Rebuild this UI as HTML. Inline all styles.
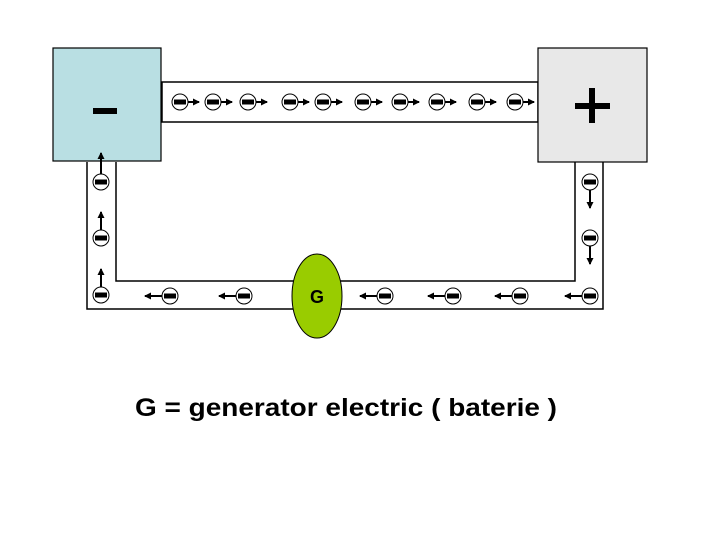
<!DOCTYPE html>
<html><head><style>html,body{margin:0;padding:0;background:#fff}svg{display:block}</style></head>
<body>
<svg width="720" height="540" viewBox="0 0 720 540" xmlns="http://www.w3.org/2000/svg">
<defs>
<marker id="ah" markerWidth="7" markerHeight="7" refX="6" refY="3.5" orient="auto" markerUnits="userSpaceOnUse">
<path d="M0,0 L7,3.5 L0,7 z" fill="#000"/></marker>
<g id="e"><circle r="8" fill="#fff" stroke="#000" stroke-width="1"/><rect x="-6" y="-2.5" width="12" height="5" fill="#000"/></g>
</defs>
<rect x="162" y="82" width="376" height="40" fill="#fff" stroke="#000" stroke-width="1.5"/>
<path d="M87,162 V309 H603 V162 M116,162 V281 H575 V162" fill="none" stroke="#000" stroke-width="1.5"/>
<rect x="53" y="48" width="108" height="113" fill="#b9dfe3" stroke="#000" stroke-width="1.2"/>
<rect x="538" y="48" width="109" height="114" fill="#e8e8e8" stroke="#000" stroke-width="1.2"/>
<rect x="93" y="108" width="24" height="6" fill="#000"/>
<rect x="575" y="103" width="35" height="6" fill="#000"/>
<rect x="589" y="88" width="6" height="35" fill="#000"/>
<g stroke="#000" stroke-width="2" marker-end="url(#ah)">
<line x1="188" y1="102" x2="199" y2="102"/><line x1="221" y1="102" x2="232" y2="102"/><line x1="256" y1="102" x2="267" y2="102"/>
<line x1="298" y1="102" x2="309" y2="102"/><line x1="331" y1="102" x2="342" y2="102"/><line x1="371" y1="102" x2="382" y2="102"/>
<line x1="408" y1="102" x2="419" y2="102"/><line x1="445" y1="102" x2="456" y2="102"/><line x1="485" y1="102" x2="496" y2="102"/>
<line x1="523" y1="102" x2="534" y2="102"/>
<line x1="101" y1="174" x2="101" y2="153"/><line x1="101" y1="230" x2="101" y2="212"/><line x1="101" y1="287" x2="101" y2="269"/>
<line x1="590" y1="190" x2="590" y2="208"/><line x1="590" y1="246" x2="590" y2="264"/>
<line x1="162" y1="296" x2="145" y2="296"/><line x1="236" y1="296" x2="219" y2="296"/>
<line x1="377" y1="296" x2="360" y2="296"/><line x1="445" y1="296" x2="428" y2="296"/>
<line x1="512" y1="296" x2="495" y2="296"/><line x1="582" y1="296" x2="565" y2="296"/>
</g>
<use href="#e" x="180" y="102"/><use href="#e" x="213" y="102"/><use href="#e" x="248" y="102"/>
<use href="#e" x="290" y="102"/><use href="#e" x="323" y="102"/><use href="#e" x="363" y="102"/>
<use href="#e" x="400" y="102"/><use href="#e" x="437" y="102"/><use href="#e" x="477" y="102"/>
<use href="#e" x="515" y="102"/>
<use href="#e" x="101" y="182"/><use href="#e" x="101" y="238"/><use href="#e" x="101" y="295"/>
<use href="#e" x="590" y="182"/><use href="#e" x="590" y="238"/>
<use href="#e" x="170" y="296"/><use href="#e" x="244" y="296"/><use href="#e" x="385" y="296"/>
<use href="#e" x="453" y="296"/><use href="#e" x="520" y="296"/><use href="#e" x="590" y="296"/>
<ellipse cx="317" cy="296" rx="25" ry="42" fill="#99cc00" stroke="#000" stroke-width="1"/>
<text x="317" y="303" text-anchor="middle" font-family="Liberation Sans, sans-serif" font-weight="bold" font-size="18" fill="#000">G</text>
<text x="135" y="416" textLength="422" lengthAdjust="spacingAndGlyphs" font-family="Liberation Sans, sans-serif" font-weight="bold" font-size="25" fill="#000">G = generator electric ( baterie )</text>
</svg>
</body></html>
